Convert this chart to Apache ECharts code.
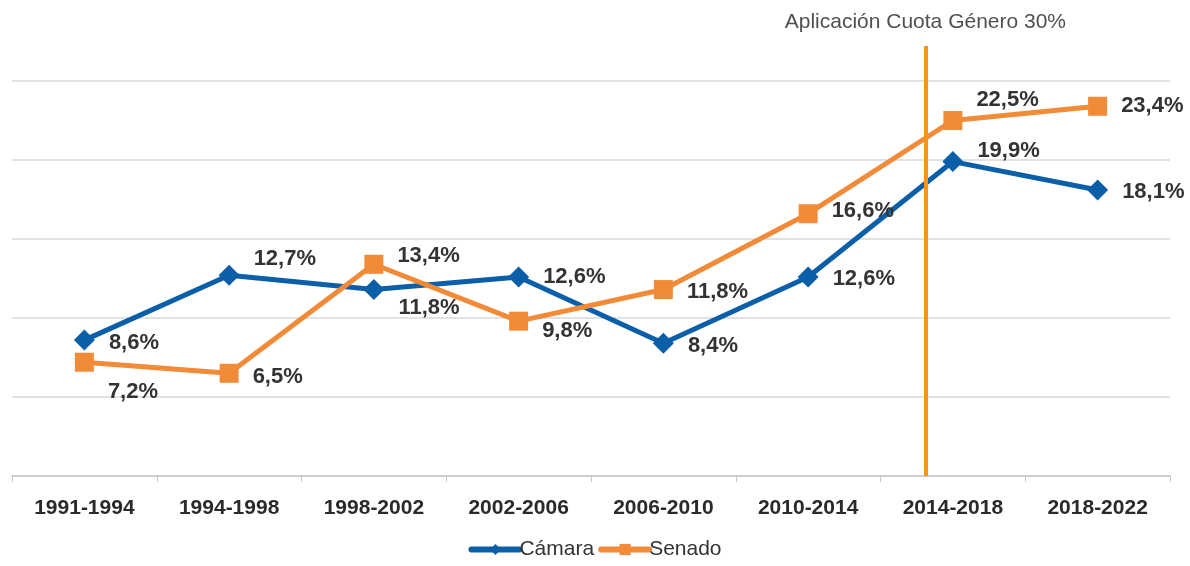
<!DOCTYPE html>
<html>
<head>
<meta charset="utf-8">
<script src="https://cdn.jsdelivr.net/npm/echarts@6/dist/echarts.min.js"></script>
<style>
  html, body { margin: 0; padding: 0; background: #fff; }
  #chart { width: 1190px; height: 566px; }
</style>
</head>
<body>
<div id="chart"></div>
<script>
// datos
var periodos = ['1991-1994', '1994-1998', '1998-2002', '2002-2006', '2006-2010', '2010-2014', '2014-2018', '2018-2022'];
var camara = [8.6, 12.7, 11.8, 12.6, 8.4, 12.6, 19.9, 18.1];
var senado = [7.2, 6.5, 13.4, 9.8, 11.8, 16.6, 22.5, 23.4];
var cuotaPos = 6.31; // posicion de la linea (en anchos de categoria)
var cuotaTexto = 'Aplicación Cuota Género 30%';

// desplazamiento de cada etiqueta [x, y]
var offCamara = [[0, 3], [0, -16], [0, 18], [0, 0], [0, 3], [0, 2], [0, -11], [0, 2]];
var offSenado = [[0, 30], [0, 4], [0, -8], [0, 10], [0, 2], [0, -3], [0, -21], [0, 0]];

function fmt(v) { return String(v.toFixed(1)).replace('.', ',') + '%'; }

function puntos(vals, offs) {
    return vals.map(function (v, i) {
        return { value: v, label: { offset: offs[i] } };
    });
}

var etiqueta = {
    show: true,
    position: 'right',
    distance: 14,
    fontSize: 22,
    fontWeight: 'bold',
    color: '#333',
    fontFamily: 'Liberation Sans, Arial, sans-serif',
    formatter: function (p) { return fmt(p.value); }
};

var chart = echarts.init(document.getElementById('chart'));
chart.setOption({
    animation: false,
    textStyle: { fontFamily: 'Liberation Sans, Arial, sans-serif' },
    grid: [
        { left: 12, right: 20, top: 81, bottom: 90 },
        { left: 12, right: 20, top: 46, bottom: 90 }
    ],
    legend: {
        bottom: 1,
        left: 'center',
        itemWidth: 48,
        itemHeight: 14,
        itemGap: 4,
        lineStyle: { width: 6, cap: 'round' },
        textStyle: { fontSize: 21, color: '#333', padding: [0, 0, 0, -5] },
        data: ['Cámara', 'Senado']
    },
    xAxis: [{
        type: 'category',
        data: periodos,
        gridIndex: 0,
        axisLine: { lineStyle: { color: '#c8c8c8', width: 1.5 } },
        axisTick: { show: true, length: 6, lineStyle: { color: '#c8c8c8' } },
        axisLabel: { fontSize: 21, fontWeight: 'bold', color: '#2a2a2a', margin: 22 }
    }, {
        type: 'value',
        gridIndex: 1,
        min: 0,
        max: periodos.length,
        show: false
    }],
    yAxis: [{
        type: 'value',
        gridIndex: 0,
        min: 0,
        max: 25,
        interval: 5,
        axisLabel: { show: false },
        axisLine: { show: false },
        axisTick: { show: false },
        splitLine: { lineStyle: { color: '#d9d9d9', width: 1.5 } }
    }, {
        type: 'value',
        gridIndex: 1,
        min: 0,
        max: 1,
        show: false
    }],
    series: [{
        name: 'Cámara',
        type: 'line',
        data: puntos(camara, offCamara),
        symbol: 'diamond',
        symbolSize: 21,
        lineStyle: { color: '#0b5ea8', width: 5 },
        itemStyle: { color: '#0b5ea8' },
        label: etiqueta,
        z: 3
    }, {
        name: 'Senado',
        type: 'line',
        data: puntos(senado, offSenado),
        symbol: 'rect',
        symbolSize: 19,
        lineStyle: { color: '#f28b38', width: 5 },
        itemStyle: { color: '#f28b38' },
        label: etiqueta,
        z: 4
    }, {
        name: 'cuota',
        type: 'line',
        xAxisIndex: 1,
        yAxisIndex: 1,
        data: [],
        silent: true,
        markLine: {
            symbol: 'none',
            silent: true,
            lineStyle: { color: '#f7941d', width: 4, type: 'solid' },
            label: {
                show: true,
                position: 'end',
                distance: 13,
                formatter: cuotaTexto,
                fontSize: 21,
                color: '#505050'
            },
            data: [{ xAxis: cuotaPos }]
        },
        z: 2
    }]
});
</script>
</body>
</html>
